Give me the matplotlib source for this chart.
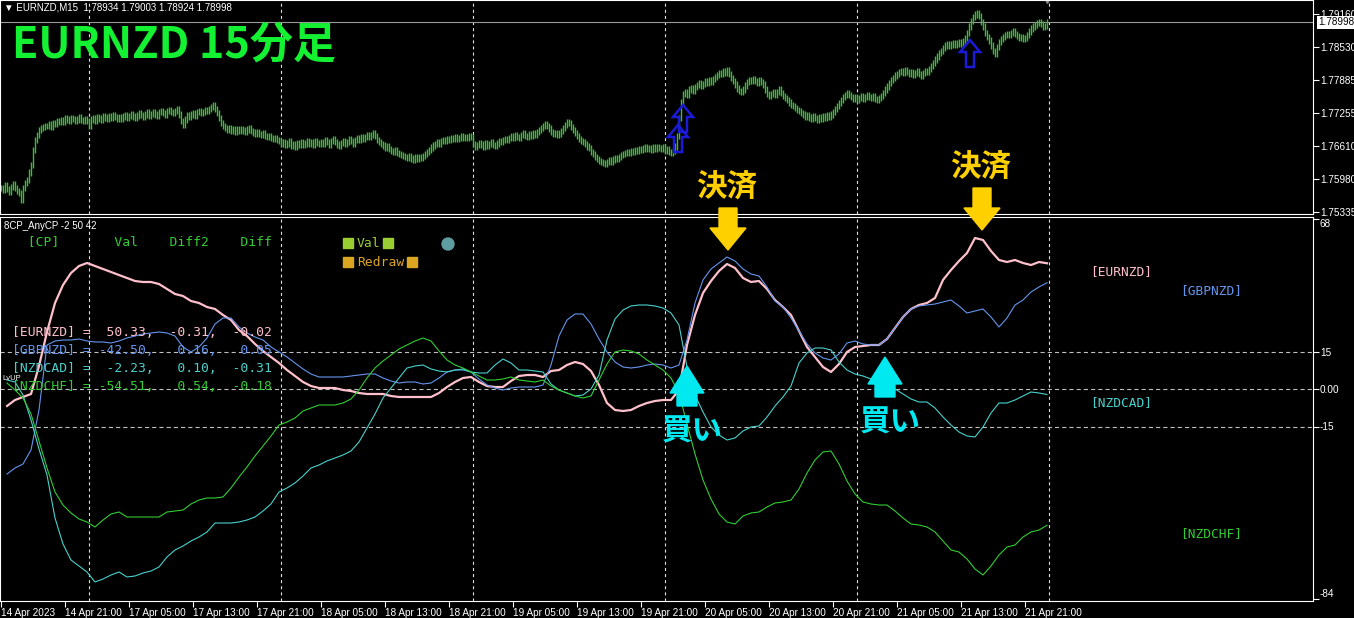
import matplotlib
matplotlib.use("Agg")
import matplotlib.pyplot as plt
import numpy as np
from matplotlib.patches import Circle, Polygon, Rectangle
from matplotlib.transforms import IdentityTransform

plt.rcParams["font.family"] = ["Liberation Sans", "DejaVu Sans"]
plt.rcParams["lines.scale_dashes"] = False

W, H = 1354, 618

# ---------------- price panel (EURNZD M15, one close per bar from 14 Apr 13:00) ----------------
header_quote = "EURNZD,M15  1.78934 1.79003 1.78924 1.78998"
title = "EURNZD 15分足"
price_base = 1.75
pip = 0.0001
# closes in pips above 1.75000
bar_close = [
    80, 76, 85, 78, 72, 82, 88, 80, 74, 70, 57, 80, 90, 95, 110, 124, 153, 173, 182,
    192, 196, 198, 200, 200, 204, 198, 206, 203, 210, 207,
    211, 208, 214, 212, 209, 215, 213, 210, 212, 216, 211, 209, 213, 210, 200,
    212, 215, 210, 217, 214, 212, 219, 216, 213, 218, 215, 220, 217, 214, 216,
    214, 218, 221, 216, 219, 223, 218, 215, 220, 224, 221, 218, 222, 226, 220,
    223, 227, 222, 220, 226, 229, 225, 222, 228, 231, 226, 224, 229, 232, 222,
    210, 202, 212, 220,
    218, 222, 225, 220, 226, 229, 224, 227, 231, 228, 233, 236, 240,
    232, 225, 215, 205, 200, 196, 192, 195, 190, 193, 188,
    193, 190, 194, 191, 189, 193, 195, 190, 187, 185, 188, 184, 182, 185, 180, 178, 181, 176, 174, 177, 172, 170,
    165,
    168, 163, 166, 170, 162, 165, 160, 167, 164, 169, 163, 166, 171, 165, 168, 163, 170, 167, 165, 169,
    166, 172, 168, 164, 170, 175, 168, 164, 162, 167, 171, 165, 169, 174, 170, 166, 172, 176, 173, 178,
    175, 179, 183, 178, 182, 186,
    180, 172, 168, 165, 162, 158, 160, 155, 152, 150, 153, 148, 146, 144,
    142, 140, 138, 141, 137, 135, 139, 136, 140, 138, 142, 146, 150,
    154, 158, 162, 165, 168, 166, 170, 173, 171, 175, 172, 176, 174, 178, 175, 177, 180, 176, 179, 177, 181, 178,
    165,
    160, 163, 167, 164, 160, 166, 162, 165, 168, 163, 161, 166, 170, 168, 172, 175, 173, 177,
    180, 177, 183, 179, 176, 182, 185, 180, 178, 184, 181, 186, 183, 188, 192, 196, 200,
    204, 199, 195, 188, 184, 186, 182, 185, 190, 196, 202, 208, 205, 198,
    192, 186, 180, 175, 170, 168, 165, 160, 157, 150, 145, 140, 136, 132, 130, 128,
    127, 130, 133, 131, 135, 138, 136, 140, 143,
    145, 147, 150, 148, 152, 150, 154, 152, 155, 153, 156, 158, 155, 157, 154, 158, 156, 159, 157, 155, 158,
    152, 155, 150, 148, 152, 160, 180, 215, 245, 262,
    266, 260, 270, 272, 268, 275, 279, 283, 277, 281, 286, 283, 288, 285,
    290, 294, 298, 302, 300, 305, 303, 308, 300, 292, 287, 280, 272, 268,
    265, 270, 278, 285, 289, 287, 290, 286, 283, 288, 285, 280,
    270, 262, 258, 262, 265, 260, 266, 270, 264, 258, 253, 250,
    245, 240, 238, 235, 230, 228, 225, 222, 218,
    220, 216, 214, 218, 215, 212, 217, 214, 219, 216, 220, 218, 222,
    226, 232, 238, 244, 250, 256, 260, 264, 260, 255, 252, 256, 250,
    254, 257, 252, 256, 259, 255, 253, 257, 252, 250, 254,
    258, 264, 270, 276, 282, 288, 292, 297, 300, 304,
    306, 302, 308, 304, 300, 303, 298, 302, 305, 300, 297, 302, 306, 304,
    310, 316, 322, 328, 334, 340, 345,
    350, 355, 358, 354, 357, 360, 356, 359, 362, 358, 363,
    370, 380, 392, 402, 410, 415, 418,
    412, 400, 392, 380, 372, 365, 355, 345, 338,
    352, 362, 368, 372, 375, 378, 376, 380,
    382, 378, 374, 370, 372, 368, 370, 375,
    382, 388, 392, 395, 398, 400, 396, 392, 393, 400,
]
last_price = 1.78998
price_ticks = [1.79160, 1.78530, 1.77885, 1.77255, 1.76610, 1.75980, 1.75335]
entry_bars = [341, 338.5, 484.5]
entry_prices = [1.77402, 1.77016, 1.78658]

# ---------------- time axis ----------------
time_labels = [
    "14 Apr 2023", "14 Apr 21:00", "17 Apr 05:00", "17 Apr 13:00", "17 Apr 21:00",
    "18 Apr 05:00", "18 Apr 13:00", "18 Apr 21:00", "19 Apr 05:00", "19 Apr 13:00",
    "19 Apr 21:00", "20 Apr 05:00", "20 Apr 13:00", "20 Apr 21:00", "21 Apr 05:00",
    "21 Apr 13:00", "21 Apr 21:00",
]
label_step = 32
day_breaks = [44, 140, 236, 332, 428, 524]

# ---------------- oscillator panel (8CP_AnyCP), one value every 4 bars ----------------
osc_first, osc_step = 3, 4
eurnzd = [
    -6.8, -4.4, -3.2, -2.0, 9.2, 22.8, 34.4, 41.6, 46.4, 49.2,
    50.4, 49.2, 48.0, 46.8, 45.6, 44.4, 43.2, 42.8, 42.8, 42.0,
    40.0, 38.0, 37.2, 35.2, 34.4, 32.8, 32.0, 29.6, 27.6, 23.6,
    21.2, 18.0, 15.2, 12.8, 10.4, 7.6, 5.2, 2.8, 1.2, 0.4,
    0.4, 0.4, -0.4, -0.8, -1.6, -2.0, -2.0, -2.0, -2.8, -3.2,
    -3.2, -3.2, -3.2, -3.2, -1.6, 0.8, 2.8, 4.4, 4.8, 2.8,
    1.2, 0.8, 0.8, 3.2, 5.2, 5.6, 5.6, 4.8, 7.2, 7.6,
    9.6, 10.8, 10.0, 7.2, 1.6, -5.6, -8.4, -8.8, -8.4, -6.8,
    -5.6, -4.8, -4.4, -4.4, -0.4, 17.6, 29.6, 38.4, 43.2, 47.2,
    50.0, 48.4, 44.4, 42.8, 43.2, 40.0, 35.6, 32.8, 29.6, 23.2,
    16.8, 12.8, 8.8, 6.8, 10.0, 14.8, 16.8, 17.2, 17.6, 17.6,
    20.0, 24.4, 28.8, 32.0, 33.6, 34.4, 36.4, 43.6, 47.6, 51.2,
    54.4, 60.4, 59.6, 55.2, 51.6, 50.8, 51.6, 50.4, 49.6, 50.8,
    50.3,
]
gbpnzd = [
    -34.0, -31.6, -30.0, -24.4, -8.4, 17.6, 19.2, 19.6, 19.6, 20.0,
    19.2, 18.8, 18.8, 18.4, 19.2, 20.4, 21.2, 22.0, 22.4, 22.8,
    22.4, 21.2, 16.8, 14.8, 16.8, 20.4, 26.0, 28.4, 28.4, 24.8,
    22.4, 20.8, 19.6, 16.8, 14.8, 12.8, 10.4, 8.0, 6.0, 4.8,
    4.8, 4.8, 4.8, 5.2, 5.6, 6.0, 6.0, 4.4, 3.2, 2.4,
    2.8, 2.8, 2.0, 2.4, 4.4, 6.8, 7.6, 7.6, 6.8, 4.0,
    1.6, 0.4, -0.4, 0.4, 0.8, 0.8, 0.8, 1.6, 9.6, 21.2,
    27.6, 30.0, 30.0, 26.0, 20.0, 14.8, 10.8, 8.8, 8.4, 8.8,
    9.6, 10.0, 9.6, 8.4, 9.6, 19.6, 34.4, 43.6, 48.0, 50.4,
    52.8, 51.2, 48.0, 46.0, 45.2, 40.8, 35.2, 32.8, 28.4, 23.2,
    18.0, 14.4, 12.4, 11.6, 14.0, 18.4, 19.2, 18.0, 17.6, 17.6,
    20.0, 24.4, 28.8, 32.0, 33.2, 33.6, 34.0, 34.8, 35.6, 33.2,
    30.4, 31.2, 32.0, 28.8, 24.8, 28.4, 33.6, 35.6, 38.8, 40.8,
    42.5,
]
nzdcad = [
    3.6, 2.8, -2.4, -12.4, -24.0, -34.4, -51.6, -62.0, -68.4, -70.8,
    -73.2, -77.2, -76.0, -74.4, -73.2, -75.2, -74.8, -73.6, -72.8, -71.2,
    -67.2, -64.4, -62.8, -60.8, -59.2, -57.2, -53.6, -53.6, -53.6, -53.2,
    -52.4, -51.2, -48.8, -46.0, -41.2, -39.6, -37.6, -34.8, -31.6, -30.4,
    -28.8, -27.6, -26.4, -24.8, -21.2, -15.6, -10.0, -3.6, 0.4, 4.4,
    8.4, 9.2, 9.6, 8.0, 7.2, 6.8, 7.6, 8.0, 6.8, 6.4,
    6.4, 9.6, 12.0, 10.4, 7.6, 7.6, 7.2, 6.8, 2.0, -0.4,
    -1.6, -2.8, -2.4, 0.0, 5.6, 19.6, 28.0, 31.6, 33.2, 33.6,
    33.6, 33.2, 32.4, 30.4, 25.6, 8.8, -2.4, -9.2, -15.2, -18.4,
    -20.4, -19.6, -16.8, -15.2, -14.8, -11.2, -6.8, -3.2, 1.2, 10.4,
    14.4, 16.4, 16.4, 15.6, 10.8, 7.6, 6.0, 5.2, 4.0, 2.4,
    1.2, 0.0, -2.0, -4.0, -5.2, -5.2, -7.6, -11.2, -14.4, -17.2,
    -18.8, -19.2, -15.2, -9.6, -5.6, -5.6, -4.4, -2.8, -1.2, -1.6,
    -2.2,
]
nzdchf = [
    2.4, -0.4, -3.6, -10.0, -20.8, -31.6, -41.2, -46.4, -49.6, -52.0,
    -53.2, -55.2, -52.4, -50.0, -49.2, -51.2, -51.2, -51.2, -51.2, -51.2,
    -49.2, -48.8, -48.4, -46.0, -44.4, -43.6, -43.6, -43.2, -39.6, -35.2,
    -31.2, -26.8, -22.8, -18.8, -14.4, -13.2, -11.6, -8.8, -7.6, -6.4,
    -6.4, -6.4, -5.6, -4.0, -0.4, 4.4, 8.4, 11.2, 13.6, 16.0,
    17.6, 19.2, 20.4, 19.2, 15.2, 11.6, 9.6, 8.4, 6.8, 5.2,
    3.6, 3.6, 4.0, 4.8, 3.6, 3.2, 2.8, 3.6, 1.2, -0.4,
    -1.6, -2.8, -3.6, -2.8, 3.6, 10.0, 14.8, 15.6, 15.2, 14.0,
    11.6, 9.6, 7.6, 4.4, -1.6, -14.0, -26.0, -36.4, -44.0, -50.0,
    -53.2, -54.0, -50.8, -49.6, -49.2, -47.2, -45.6, -45.2, -44.4, -40.0,
    -33.6, -28.4, -25.2, -24.8, -30.0, -36.8, -42.0, -45.2, -46.0, -46.4,
    -46.4, -48.8, -51.6, -54.0, -54.4, -55.2, -57.2, -60.8, -64.4, -65.2,
    -68.0, -72.0, -74.4, -70.8, -66.4, -63.2, -62.4, -59.2, -57.2, -56.4,
    -54.5,
]
cp_names = ["EURNZD", "GBPNZD", "NZDCAD", "NZDCHF"]
cp_val = [50.33, -42.50, -2.23, -54.51]
cp_diff2 = [-0.31, 0.16, 0.10, 0.54]
cp_diff = [-0.02, 0.05, -0.31, -0.18]
cp_label_bars = [544.5, 589.5, 544.5, 589.5]

osc_ticks = [68, 15, 0, -15, -84]
osc_tick_labels = ["68", "15", "0.00", "-15", "-84"]
osc_levels = [15, 0, -15]

buy_bars = [343, 442]
buy_values = [9.2, 12.8]
exit_bars = [363.5, 490.5]
exit_values = [55.6, 63.6]

# ---------------- styles ----------------
bar_color = "#3fbb3f"
cp_colors = ["#ffc0cb", "#6495ed", "#48d1cc", "#32cd32"]
cp_widths = [1.6, 0.8, 0.8, 0.8]
mono = "DejaVu Sans Mono"
yellow = "#ffd000"
cyan = "#00e8f0"


def fig_rect(left, top, right, bottom):
    return [left / W, 1 - bottom / H, (right - left) / W, (bottom - top) / H]


def ftext(x, y, s, **kw):
    kw.setdefault("va", "center")
    fig.text(x / W, 1 - y / H, s, **kw)


def style_axes(ax):
    ax.set_facecolor("black")
    for sp in ax.spines.values():
        sp.set_color("white")
        sp.set_linewidth(0.8)
    ax.yaxis.tick_right()
    ax.tick_params(axis="y", colors="white", length=4, width=0.8, pad=1, labelsize=7.2)


fig = plt.figure(figsize=(W / 100, H / 100), dpi=100, facecolor="black")
ax_p = fig.add_axes(fig_rect(0, 0, 1313, 214))
ax_o = fig.add_axes(fig_rect(0, 217, 1313, 601))
for ax in (ax_p, ax_o):
    style_axes(ax)
    ax.set_xlim(-0.5, 656)
    for b in day_breaks:
        ax.axvline(b, color="#e0e0e0", lw=0.8, dashes=(2.2, 2.2), zorder=1)

# price bars
px_price = (price_ticks[0] - price_ticks[-1]) / 198
ax_p.set_ylim(price_ticks[-1] - 2 * px_price, price_ticks[-1] + 212 * px_price)
close = price_base + np.array(bar_close) * pip
opens = np.r_[close[0], close[:-1]]
bars = np.arange(len(close))
ax_p.vlines(bars, np.minimum(opens, close) - 6 * pip, np.maximum(opens, close) + 6 * pip,
            color=bar_color, lw=1.0, zorder=2)
ax_p.axhline(last_price, color="#9a9a9a", lw=0.8, zorder=1)
ax_p.plot([bars[-1]], [ax_p.get_ylim()[1]], marker="v", color="#8a8a8a", ms=5, clip_on=False)
ax_p.set_xticks([])
ax_p.set_yticks(price_ticks)
ax_p.set_yticklabels([f"{p:.5f}" for p in price_ticks])
ax_p.annotate(f"{last_price:.5f}", xy=(1, last_price), xycoords=ax_p.get_yaxis_transform(),
              xytext=(5, 0), textcoords="offset pixels", va="center", ha="left", fontsize=7.2,
              color="black", annotation_clip=False,
              bbox=dict(boxstyle="square,pad=0.12", fc="white", ec="none"))

# oscillator lines
ax_o.set_ylim(-84.8, 68.8)
for lv in osc_levels:
    ax_o.axhline(lv, color="#c0c0c0", lw=0.8, dashes=(3, 2.2), zorder=1)
series = [eurnzd, gbpnzd, nzdcad, nzdchf]
for vals, color, lw in zip(series, cp_colors, cp_widths):
    xs = osc_first + osc_step * np.arange(len(vals))
    ax_o.plot(xs, vals, color=color, lw=lw, zorder=3, solid_joinstyle="round")
ax_o.set_yticks(osc_ticks)
ax_o.set_yticklabels(osc_tick_labels)
ylabels = ax_o.get_yticklabels()
ylabels[0].set_va("top")
ylabels[-1].set_va("bottom")
label_bars = [i * label_step for i in range(len(time_labels))]
ax_o.set_xticks(label_bars)
ax_o.set_xticklabels(time_labels, ha="left")
ax_o.tick_params(axis="x", colors="white", length=4, width=0.8, pad=1, labelsize=7.2)

# labels at the right of each line
for name, vals, color, xb in zip(cp_names, series, cp_colors, cp_label_bars):
    tx, ty = ax_o.transData.transform((xb, vals[-1]))
    fig.text(tx, ty - 8, f"[{name}]", transform=IdentityTransform(), family=mono,
             fontsize=9.3, color=color, va="center", ha="left")

# indicator texts
ftext(4, 8, "▼ " + header_quote, color="white", fontsize=7)
ftext(12, 45, title, color="#14f032", fontsize=31, weight="bold",
      family=["Noto Sans CJK JP", "DejaVu Sans"])
ftext(4, 226, "8CP_AnyCP -2 50 42", color="white", fontsize=7)
ftext(2, 379, "LvUP", color="white", fontsize=5.5)
ftext(12, 242, "  [CP]       Val    Diff2    Diff", family=mono, fontsize=9.4, color="#32cd32")
for k, (name, v, d2, d) in enumerate(zip(cp_names, cp_val, cp_diff2, cp_diff)):
    ftext(12, 333 + 18 * k, f"[{name}] = {v:6.2f}, {d2:6.2f}, {d:6.2f}",
          family=mono, fontsize=9.4, color=cp_colors[k], zorder=2)

for ytop, word, color, right_x in [(238, "Val", "#9acd32", 383), (257, "Redraw", "#daa520", 407)]:
    for x0 in (343, right_x):
        fig.add_artist(Rectangle((x0, H - ytop - 10), 10, 10, transform=IdentityTransform(),
                                 color=color))
    ftext(357, ytop + 5, word, family=mono, fontsize=9.4, color=color)
fig.add_artist(Circle((448, H - 244), 6, transform=IdentityTransform(), color="#5f9ea0"))


# signal arrows
def pix_poly(ax, x, y, shape, **kw):
    tx, ty = ax.transData.transform((x, y))
    pts = [(tx + dx, ty + dy) for dx, dy in shape]
    fig.add_artist(Polygon(pts, closed=True, transform=IdentityTransform(), **kw))
    return tx, ty


down_arrow = [(0, 0), (18, 22), (9, 22), (9, 42), (-9, 42), (-9, 22), (-18, 22)]
up_arrow = [(0, 0), (17, -27), (10, -27), (10, -40), (-10, -40), (-10, -27), (-17, -27)]
hollow_up = [(0, 0), (10, -12), (4, -12), (4, -27), (-4, -27), (-4, -12), (-10, -12)]

for b, v in zip(exit_bars, exit_values):
    tx, ty = pix_poly(ax_o, b, v, down_arrow, color=yellow, zorder=5)
    fig.text(tx - 1, ty + 62, "決済", transform=IdentityTransform(), ha="center", va="center",
             fontsize=22, weight="bold", color=yellow, family=["Noto Sans CJK JP"])
for b, v in zip(buy_bars, buy_values):
    tx, ty = pix_poly(ax_o, b, v, up_arrow, color=cyan, zorder=5)
    fig.text(tx + 5, ty - 66, "買い", transform=IdentityTransform(), ha="center", va="center",
             fontsize=22, weight="bold", color=cyan, family=["Noto Sans CJK JP"])
for b, p in zip(entry_bars, entry_prices):
    pix_poly(ax_p, b, p, hollow_up, fill=False, edgecolor="#1a1ad8", lw=1.8, zorder=5)

fig.savefig("out.png", dpi=100, facecolor="black")
